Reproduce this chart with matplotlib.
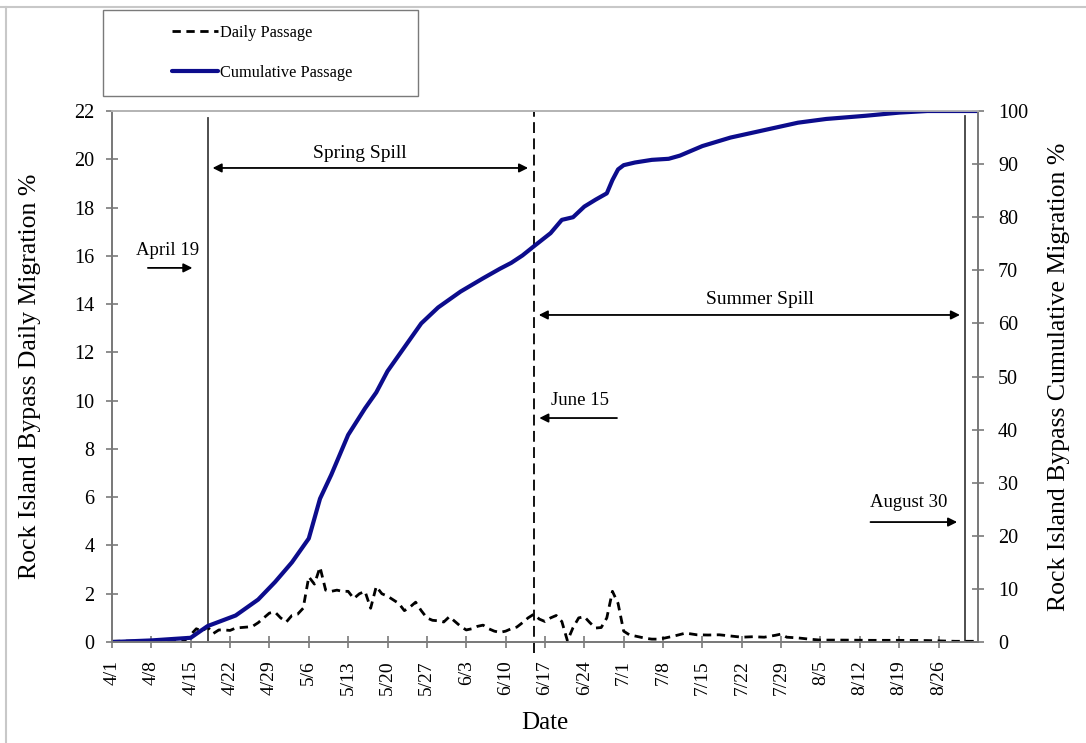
import numpy as np
import matplotlib
matplotlib.use("Agg")
import matplotlib.pyplot as plt
from matplotlib.lines import Line2D
from matplotlib.patches import Rectangle

plt.rcParams['font.family'] = ['Liberation Serif', 'DejaVu Serif']

# days counted from April 1
daily_day = [0, 7, 13, 14, 15, 16, 17, 18, 19, 20, 21, 22, 24, 25, 26, 27, 28, 29, 30,
             31, 32, 33, 34, 35, 36, 37, 38, 39, 40, 41, 42, 43, 44, 45, 46, 47, 48, 49,
             50, 51, 52, 53, 54, 55, 56, 57, 58, 59, 60, 61, 62, 63, 64, 65, 66, 67, 68,
             69, 70, 71, 72, 73, 74, 75, 76, 77, 78, 79, 80, 81, 82, 83, 84, 85, 86, 87,
             88, 89, 90, 91, 92, 93, 94, 95, 96, 97, 98, 100, 102, 104, 106, 108, 110,
             112, 114, 116, 118, 119, 120, 122, 124, 126, 130, 135, 140, 145, 150, 154]
daily_pct = [0.03, 0.05, 0.08, 0.3, 0.55, 0.45, 0.62, 0.35, 0.5, 0.5, 0.48, 0.58, 0.62,
             0.65, 0.8, 1.0, 1.2, 1.24, 1.0, 0.83, 1.1, 1.15, 1.4, 2.7, 2.4, 3.1, 2.15,
             2.1, 2.15, 2.1, 2.1, 1.8, 2.0, 2.1, 1.4, 2.3, 2.0, 1.9, 1.75, 1.6, 1.3, 1.45,
             1.65, 1.3, 1.0, 0.9, 0.88, 0.83, 1.05, 0.85, 0.65, 0.5, 0.55, 0.65, 0.7,
             0.55, 0.45, 0.4, 0.45, 0.55, 0.62, 0.8, 1.0, 1.15, 0.95, 0.85, 1.0, 1.1,
             0.85, 0.05, 0.6, 1.0, 1.05, 0.8, 0.58, 0.6, 1.0, 2.1, 1.6, 0.45, 0.3, 0.25,
             0.2, 0.15, 0.12, 0.12, 0.15, 0.25, 0.37, 0.3, 0.29, 0.3, 0.25, 0.2, 0.22,
             0.2, 0.28, 0.33, 0.2, 0.17, 0.12, 0.08, 0.08, 0.07, 0.07, 0.06, 0.03, 0.03]

cum_day = [0, 7, 14, 17, 22, 26, 29, 32, 35, 37, 39, 42, 45, 47, 49, 51, 53, 55, 58, 62,
           66, 69, 71, 73, 75, 78, 80, 82, 84, 86, 88, 89, 90, 91, 93, 96, 99, 101, 105,
           110, 116, 122, 127, 134, 140, 145, 154]
cum_pct = [0, 0.3, 0.8, 3, 5, 8, 11.3, 15, 19.5, 27, 31.5, 39, 44, 47, 51, 54, 57, 60,
           63, 66, 68.5, 70.3, 71.4, 72.8, 74.5, 77, 79.5, 80, 82, 83.3, 84.5, 87, 89,
           89.8, 90.3, 90.8, 91, 91.6, 93.4, 95, 96.4, 97.8, 98.5, 99.1, 99.7, 100, 100]

tick_day = list(range(0, 148, 7))
tick_lab = ["4/1", "4/8", "4/15", "4/22", "4/29", "5/6", "5/13", "5/20", "5/27", "6/3",
            "6/10", "6/17", "6/24", "7/1", "7/8", "7/15", "7/22", "7/29", "8/5", "8/12",
            "8/19", "8/26"]

april19, june15, aug30 = 17, 75, 151.7

fig = plt.figure(figsize=(10.86, 7.43), dpi=100)
ax = fig.add_axes([0.1031, 0.1359, 0.7974, 0.7147])
ax2 = ax.twinx()

gray = "#7a7a7a"
ax.plot(daily_day, daily_pct, color="black", lw=2, linestyle=(0, (3, 2)),
        label="Daily Passage", zorder=3)
ax2.plot(cum_day, cum_pct, color="#0c0c8c", lw=3, label="Cumulative Passage",
         solid_capstyle="round")

ax.set_xlim(0, 154)
ax.set_ylim(0, 22)
ax2.set_ylim(0, 100)
ax.set_yticks(np.arange(0, 23, 2))
ax2.set_yticks(np.arange(0, 101, 10))
ax.set_xticks(tick_day)
ax.set_xticklabels(tick_lab, rotation=90)

for a in (ax, ax2):
    for s in a.spines.values():
        s.set_color(gray)
        s.set_linewidth(1.3)
    a.spines['top'].set_color("#b5b5b5")
ax.tick_params(axis='y', direction='inout', length=9, width=1.2, color=gray,
               labelsize=14.5, pad=8)
ax2.tick_params(axis='y', direction='inout', length=9, width=1.2, color=gray,
                labelsize=14.5, pad=10)
ax.tick_params(axis='x', direction='inout', length=8, width=1.2, color=gray,
               labelsize=14, pad=9)

ax.set_xlabel("Date", fontsize=18, labelpad=12)
ax.set_ylabel("Rock Island Bypass Daily Migration %", fontsize=18.5, labelpad=24)
ax2.set_ylabel("Rock Island Bypass Cumulative Migration %", fontsize=18.5, labelpad=14)

# event lines
ax.plot([april19, april19], [0, 21.7], color="#404040", lw=1.3)
ax.plot([june15, june15], [-0.45, 22], color="black", lw=1.3,
        linestyle=(0, (6, 3)), clip_on=False)
ax.plot([aug30, aug30], [0, 21.8], color="#404040", lw=1.3)

arrow_kw = dict(arrowstyle='-|>', color="black", lw=1.3, mutation_scale=13)
dbl_kw = dict(arrowstyle='<|-|>', color="black", lw=1.3, mutation_scale=13)

ax.annotate("", xy=(14.8, 15.5), xytext=(5.9, 15.5), arrowprops=arrow_kw)
ax.text(9.96, 16.24, "April 19", fontsize=13.5, ha="center", va="center")

ax.annotate("", xy=(74.5, 19.64), xytext=(17.4, 19.64), arrowprops=dbl_kw)
ax.text(44.1, 20.26, "Spring Spill", fontsize=14, ha="center", va="center")

ax.annotate("", xy=(151.3, 13.55), xytext=(75.4, 13.55), arrowprops=dbl_kw)
ax.text(115.2, 14.17, "Summer Spill", fontsize=14, ha="center", va="center")

ax.annotate("", xy=(75.5, 9.28), xytext=(90.3, 9.28), arrowprops=arrow_kw)
ax.text(83.2, 10.0, "June 15", fontsize=13.5, ha="center", va="center")

ax.annotate("", xy=(150.8, 4.97), xytext=(134.4, 4.97), arrowprops=arrow_kw)
ax.text(141.6, 5.76, "August 30", fontsize=13.5, ha="center", va="center")

# legend in a box above the plot
fig.add_artist(Rectangle((103 / 1086, 1 - 96 / 743), 315 / 1086, 86 / 743,
                         transform=fig.transFigure, fill=False, edgecolor=gray, lw=1))
handles = [ax.get_lines()[0], ax2.get_lines()[0]]
fig.legend(handles, [h.get_label() for h in handles], loc="center",
           bbox_to_anchor=(262 / 1086, 1 - 53 / 743), frameon=False, fontsize=11.8,
           handlelength=2.8, handletextpad=0.1, labelspacing=1.45)

# outer picture frame
fig.add_artist(Line2D([0, 1], [1 - 7 / 743] * 2, transform=fig.transFigure,
                      color="#c8c8c8", lw=1.5))
fig.add_artist(Line2D([6 / 1086] * 2, [0, 1 - 7 / 743], transform=fig.transFigure,
                      color="#c8c8c8", lw=1.5))

fig.savefig("out.png", dpi=100)
